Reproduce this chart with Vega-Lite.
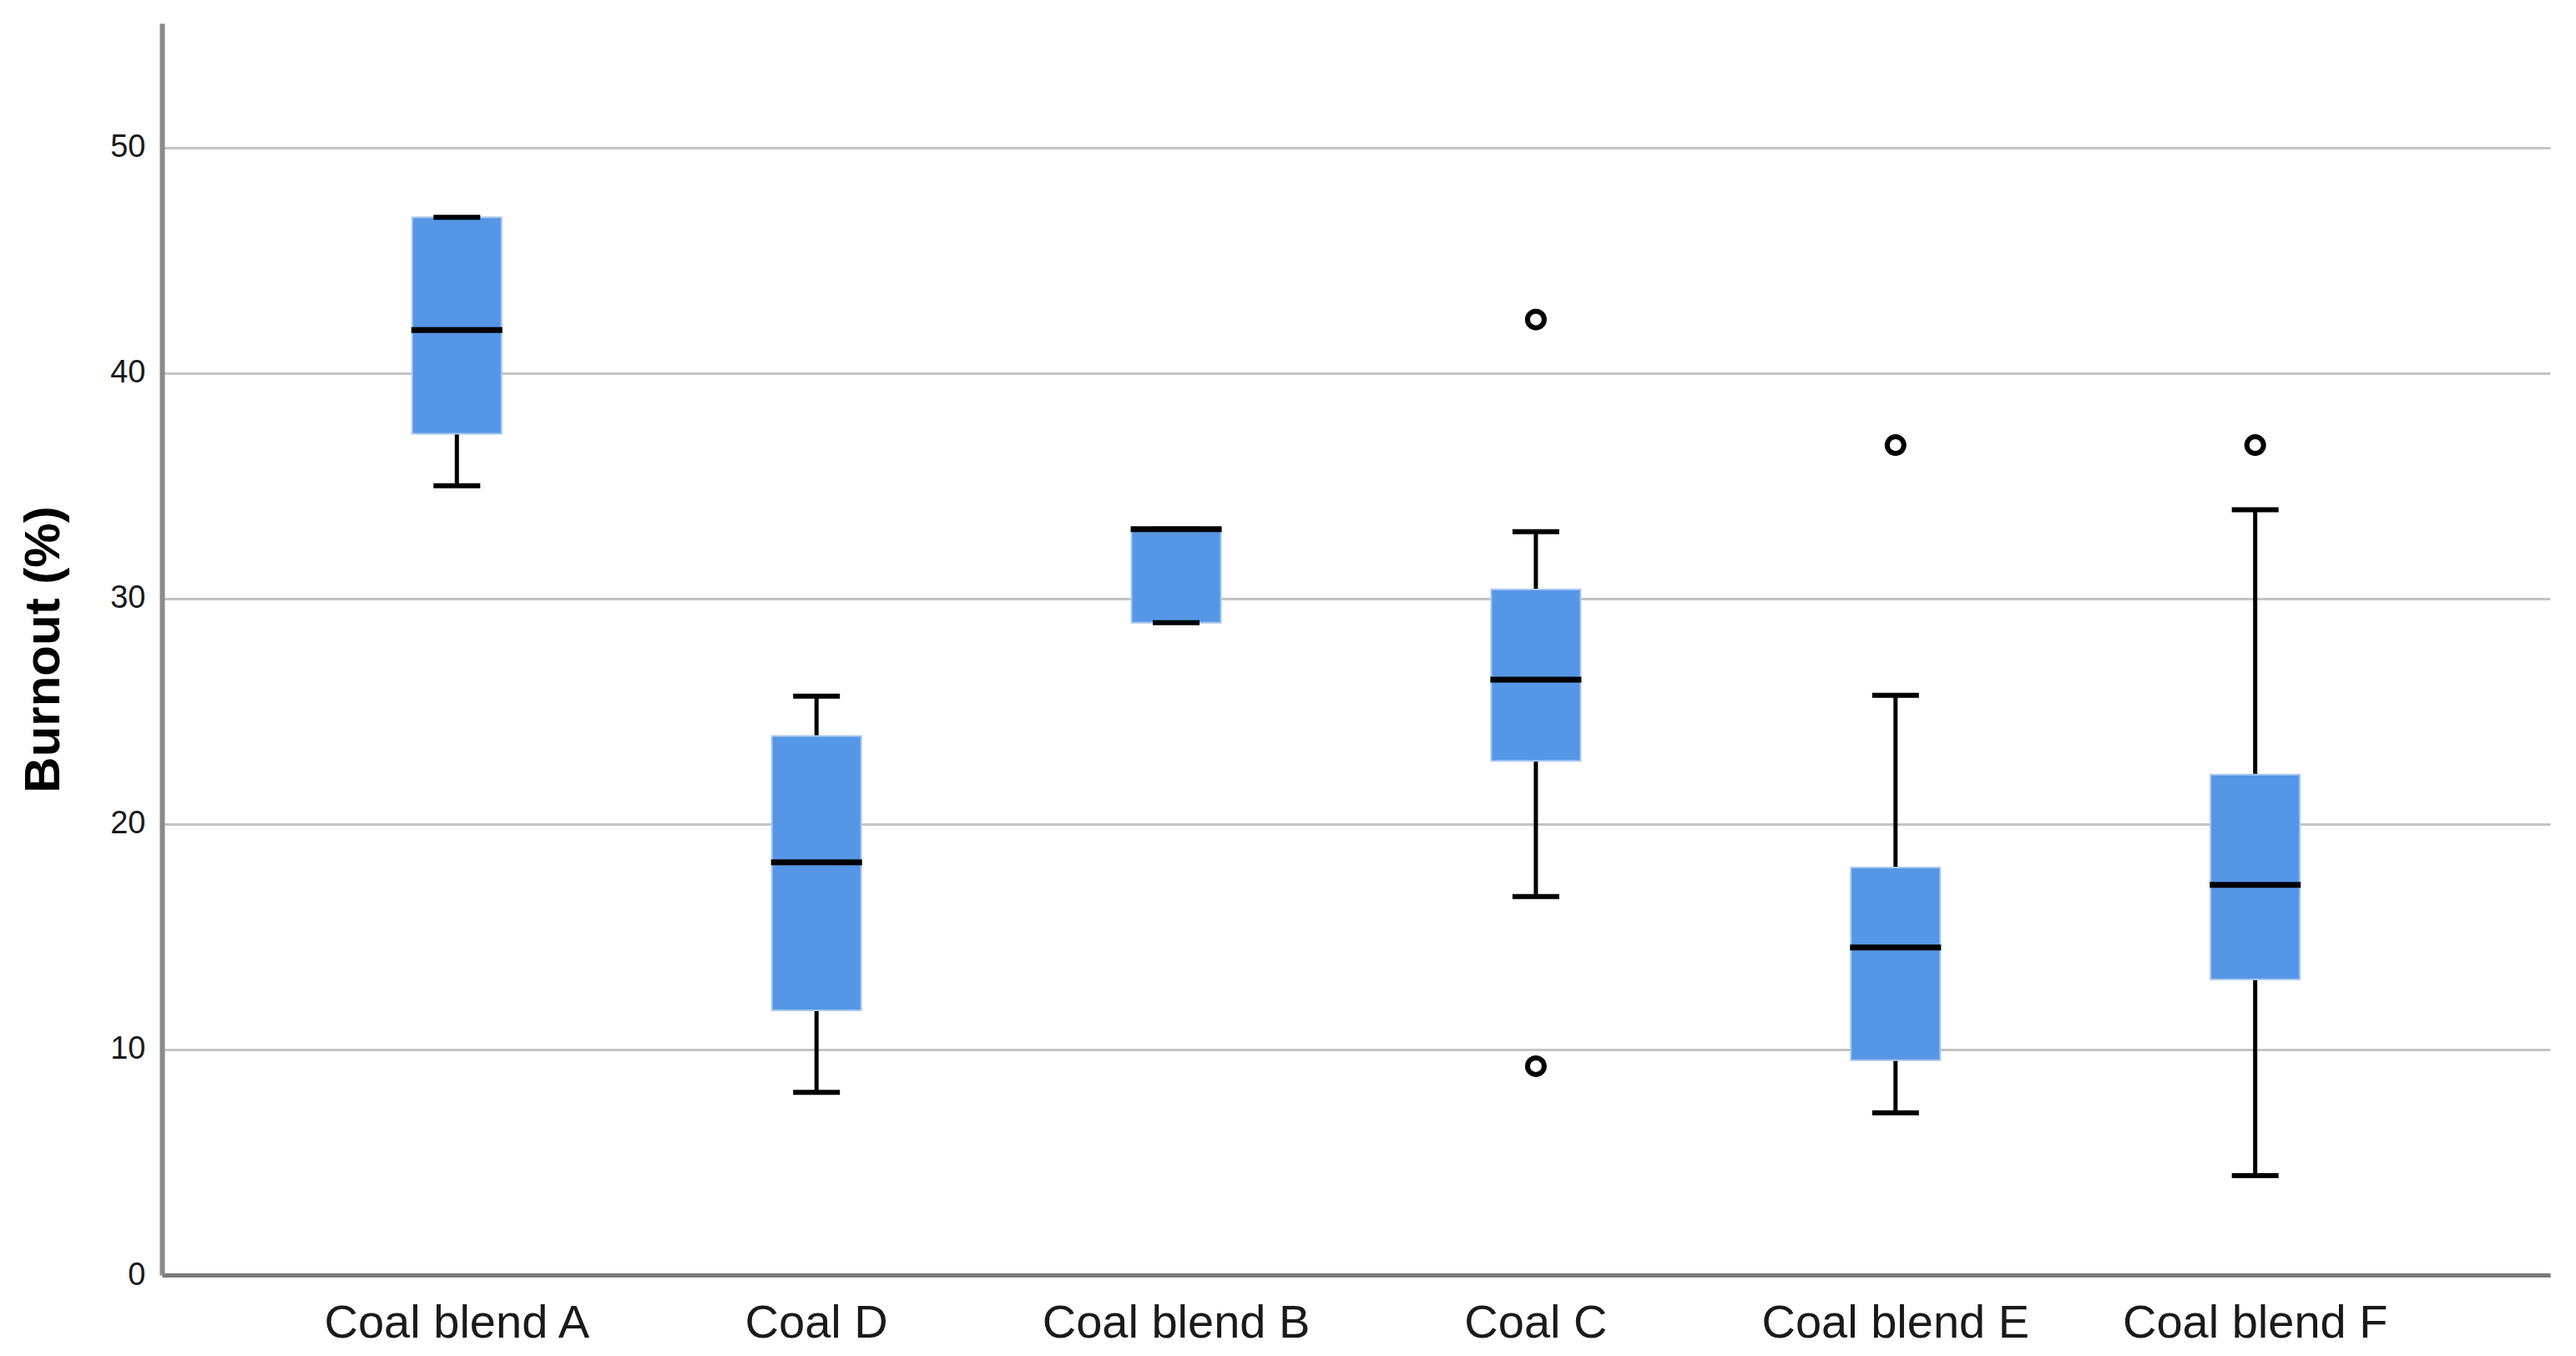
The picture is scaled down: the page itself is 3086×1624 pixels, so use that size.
{
  "$schema": "https://vega.github.io/schema/vega-lite/v6.json",
  "autosize": {"type": "none"},
  "padding": {"left": 194, "top": 28, "right": 31, "bottom": 97},
  "width": 2861,
  "height": 1499,
  "background": "white",
  "config": {
    "view": {"stroke": null},
    "font": "Liberation Sans"
  },
  "datasets": {
    "boxes": [
      {"group": "Coal blend A", "lower": 35.0, "q1": 37.3, "median": 41.9, "q3": 46.9, "upper": 46.9},
      {"group": "Coal D", "lower": 8.1, "q1": 11.74, "median": 18.3, "q3": 23.9, "upper": 25.67},
      {"group": "Coal blend B", "lower": 28.93, "q1": 28.93, "median": 33.07, "q3": 33.07, "upper": 33.07},
      {"group": "Coal C", "lower": 16.78, "q1": 22.8, "median": 26.4, "q3": 30.4, "upper": 32.96},
      {"group": "Coal blend E", "lower": 7.19, "q1": 9.52, "median": 14.52, "q3": 18.07, "upper": 25.7},
      {"group": "Coal blend F", "lower": 4.41, "q1": 13.11, "median": 17.3, "q3": 22.19, "upper": 33.93}
    ],
    "outliers": [
      {"group": "Coal C", "value": 42.37},
      {"group": "Coal C", "value": 9.26},
      {"group": "Coal blend E", "value": 36.8},
      {"group": "Coal blend F", "value": 36.8}
    ]
  },
  "encoding": {
    "x": {
      "field": "group",
      "type": "nominal",
      "sort": null,
      "scale": {
        "domain": ["Coal blend A", "Coal D", "Coal blend B", "Coal C", "Coal blend E", "Coal blend F"],
        "paddingInner": 0,
        "paddingOuter": 0.32
      },
      "axis": {
        "title": null,
        "labelAngle": 0,
        "labelFontSize": 56,
        "labelColor": "#1a1a1a",
        "labelPadding": 30,
        "labelLimit": 0,
        "labelOverlap": false,
        "ticks": false,
        "domainColor": "#7a7a7a",
        "domainWidth": 5,
        "grid": false
      }
    }
  },
  "layer": [
    {
      "data": {"name": "boxes"},
      "mark": {"type": "rule", "color": "#000000", "strokeWidth": 5, "opacity": 1},
      "encoding": {
        "y": {
          "field": "lower",
          "type": "quantitative",
          "scale": {"domain": [0, 55.5], "nice": false, "zero": true},
          "axis": {
            "title": "Burnout (%)",
            "titleFontSize": 60,
            "titleFontWeight": "bold",
            "titleColor": "#000000",
            "titlePadding": 48,
            "values": [0, 10, 20, 30, 40, 50],
            "labelFontSize": 38,
            "labelColor": "#1a1a1a",
            "labelPadding": 20,
            "ticks": false,
            "domainColor": "#8a8a8a",
            "domainWidth": 6,
            "grid": true,
            "gridColor": "#c4c4c4",
            "gridWidth": 3
          }
        },
        "y2": {"field": "upper"}
      }
    },
    {
      "data": {"name": "boxes"},
      "mark": {"type": "bar", "size": 107, "fill": "#5596e6", "stroke": "#a8c7f1", "strokeWidth": 2, "opacity": 1},
      "encoding": {
        "y": {"field": "q1", "type": "quantitative"},
        "y2": {"field": "q3"}
      }
    },
    {
      "data": {"name": "boxes"},
      "mark": {"type": "tick", "size": 56, "thickness": 6, "color": "#000000", "opacity": 1},
      "encoding": {
        "y": {"field": "lower", "type": "quantitative"}
      }
    },
    {
      "data": {"name": "boxes"},
      "mark": {"type": "tick", "size": 56, "thickness": 6, "color": "#000000", "opacity": 1},
      "encoding": {
        "y": {"field": "upper", "type": "quantitative"}
      }
    },
    {
      "data": {"name": "boxes"},
      "mark": {"type": "tick", "size": 109, "thickness": 7, "color": "#000000", "opacity": 1},
      "encoding": {
        "y": {"field": "median", "type": "quantitative"}
      }
    },
    {
      "data": {"name": "outliers"},
      "mark": {"type": "point", "shape": "circle", "filled": false, "stroke": "#000000", "strokeWidth": 6, "size": 400, "opacity": 1},
      "encoding": {
        "y": {"field": "value", "type": "quantitative"}
      }
    }
  ]
}
